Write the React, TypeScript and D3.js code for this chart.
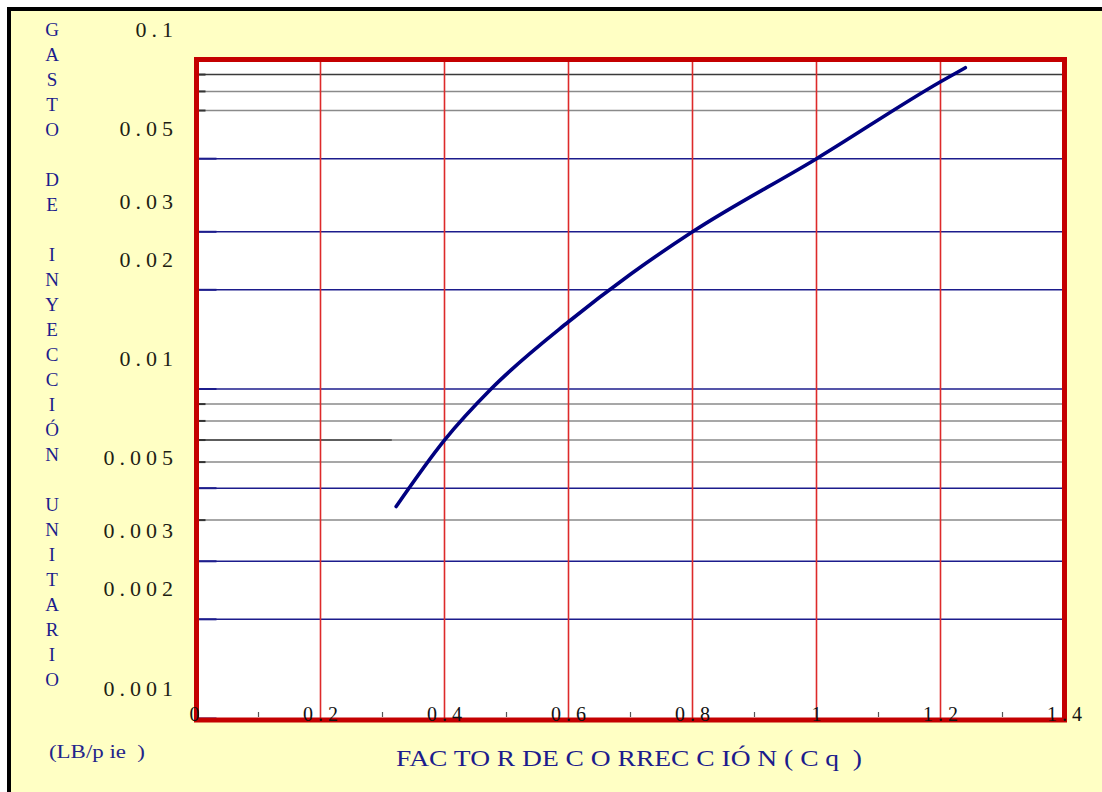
import React from "react";
import * as d3 from "d3";

// Curve: unit injection rate vs. correction factor Cq
const cqValues = [0.322, 0.4, 0.475, 0.6, 0.7, 0.8, 1.0, 1.2, 1.24];
const gastoValues = [0.0044, 0.007, 0.01, 0.016, 0.0223, 0.03, 0.05, 0.0856, 0.0944];

// Axis ticks
const yTickValues = [0.1, 0.05, 0.03, 0.02, 0.01, 0.005, 0.003, 0.002, 0.001];
const yTickLabels = ["0.1", "0.05", "0.03", "0.02", "0.01", "0.005", "0.003", "0.002", "0.001"];
const xTickValues = [0, 0.2, 0.4, 0.6, 0.8, 1.0, 1.2, 1.4];
const xTickLabels = ["0", "0.2", "0.4", "0.6", "0.8", "1", "1.2", "1.4"];
const xMinorTicks = [0.1, 0.3, 0.5, 0.7, 0.9, 1.1, 1.3];

// Horizontal grid
const majorLines = [0.05, 0.03, 0.02, 0.01, 0.005, 0.003, 0.002];
const minorLines = [0.09, 0.08, 0.07, 0.009, 0.008, 0.007, 0.006, 0.004];
const edgeLines = [0.1, 0.001];

const yTitle = "GASTO DE INYECCIÓN UNITARIO";
const xTitle = "FAC TO R DE C O RREC C IÓ N ( C q  )";
const unitLabel = "(LB/p ie  )";

const W = 1102;
const H = 792;
const CREAM = "#FFFFC4";
const RED = "#C40000";
const GRID_RED = "#DD2A2A";
const BLUE = "#1C1C8C";
const NAVY = "#000080";

export default function App() {
  const x = d3.scaleLinear().domain([0, 1.4]).range([196.5, 1064.5]);
  const y = d3.scaleLog().domain([0.001, 0.1]).range([718.5, 59.5]);
  const left = x(0);
  const right = x(1.4);
  const top = 59.5;
  const bottom = 720;

  const pts: [number, number][] = cqValues.map((c, i) => [c, gastoValues[i]]);
  const line = d3
    .line<[number, number]>()
    .x((d) => x(d[0]))
    .y((d) => y(d[1]))
    .curve(d3.curveMonotoneX);

  const serif = "'Liberation Serif', 'DejaVu Serif', serif";

  return (
    <div style={{ position: "absolute", left: 0, top: 0, width: W, height: H, overflow: "hidden" }}>
      <svg width={W} height={H} style={{ display: "block" }}>
        <rect x={0} y={0} width={W} height={H} fill="#ffffff" />
        <rect x={9} y={9} width={W + 20} height={H + 20} fill={CREAM} stroke="#000" strokeWidth={4} />

        {/* plot area */}
        <rect x={left} y={top} width={right - left} height={bottom - top} fill="#ffffff" />

        {/* gray minor lines */}
        {minorLines.map((v) => (
          <line
            key={"mn" + v}
            x1={left}
            x2={right}
            y1={y(v)}
            y2={y(v)}
            stroke={v === 0.09 ? "#3a3a3a" : "#8a8a8a"}
            strokeWidth={1.5}
          />
        ))}
        {/* darker stretch on the 0.007 line */}
        <line x1={left} x2={x(0.315)} y1={y(0.007)} y2={y(0.007)} stroke="#444" strokeWidth={1.6} />

        {/* blue major lines */}
        {majorLines.map((v) => (
          <line key={"mj" + v} x1={left} x2={right} y1={y(v)} y2={y(v)} stroke={BLUE} strokeWidth={1.6} />
        ))}

        {/* left edge ticks */}
        {[...majorLines, ...edgeLines].map((v) => (
          <line key={"lt" + v} x1={left} x2={left + 20} y1={y(v)} y2={y(v)} stroke={BLUE} strokeWidth={2} />
        ))}
        {minorLines.map((v) => (
          <line key={"lg" + v} x1={left} x2={left + 9} y1={y(v)} y2={y(v)} stroke="#333" strokeWidth={2} />
        ))}

        {/* vertical red grid */}
        {xTickValues.slice(1, -1).map((v) => (
          <line key={"vg" + v} x1={x(v)} x2={x(v)} y1={top} y2={bottom} stroke={GRID_RED} strokeWidth={1.6} />
        ))}

        {/* minor x ticks */}
        {xMinorTicks.map((v) => (
          <line key={"xm" + v} x1={x(v)} x2={x(v)} y1={bottom - 8} y2={bottom - 3} stroke="#555" strokeWidth={1.2} />
        ))}

        {/* curve */}
        <path d={line(pts) || ""} fill="none" stroke={NAVY} strokeWidth={3.6} strokeLinecap="round" strokeLinejoin="round" />

        {/* frame */}
        <rect x={left} y={top} width={right - left} height={bottom - top} fill="none" stroke={RED} strokeWidth={5} />

        {/* x tick labels */}
        {xTickValues.map((v, i) => (
          <text
            key={"xl" + v}
            x={x(v) + (i === 0 ? -2 : 2.5)}
            y={721}
            textAnchor="middle"
            fontFamily={serif}
            fontSize={20}
            letterSpacing={i === 0 ? 0 : 5}
            fill="#111"
          >
            {xTickLabels[i]}
          </text>
        ))}

        {/* y tick labels */}
        {yTickValues.map((v, i) => (
          <text
            key={"yl" + v}
            x={178}
            y={y(v) - 23}
            textAnchor="end"
            fontFamily={serif}
            fontSize={22}
            letterSpacing={5}
            fill="#1e1e14"
          >
            {yTickLabels[i]}
          </text>
        ))}

        {/* vertical y-axis title, one letter per row */}
        {Array.from(yTitle).map((ch, i) =>
          ch === " " ? null : (
            <text
              key={"yt" + i}
              x={52}
              y={35.5 + i * 25}
              textAnchor="middle"
              fontFamily={serif}
              fontSize={19}
              fill={BLUE}
            >
              {ch}
            </text>
          )
        )}

        <text x={396} y={766} fontFamily={serif} fontSize={23} fill={BLUE} textLength={466} lengthAdjust="spacingAndGlyphs" style={{ whiteSpace: "pre" }}>
          {xTitle}
        </text>

        <text x={49} y={758} fontFamily={serif} fontSize={18} fill="#24248a" textLength={96} lengthAdjust="spacingAndGlyphs" style={{ whiteSpace: "pre" }}>
          {unitLabel}
        </text>
      </svg>
    </div>
  );
}
